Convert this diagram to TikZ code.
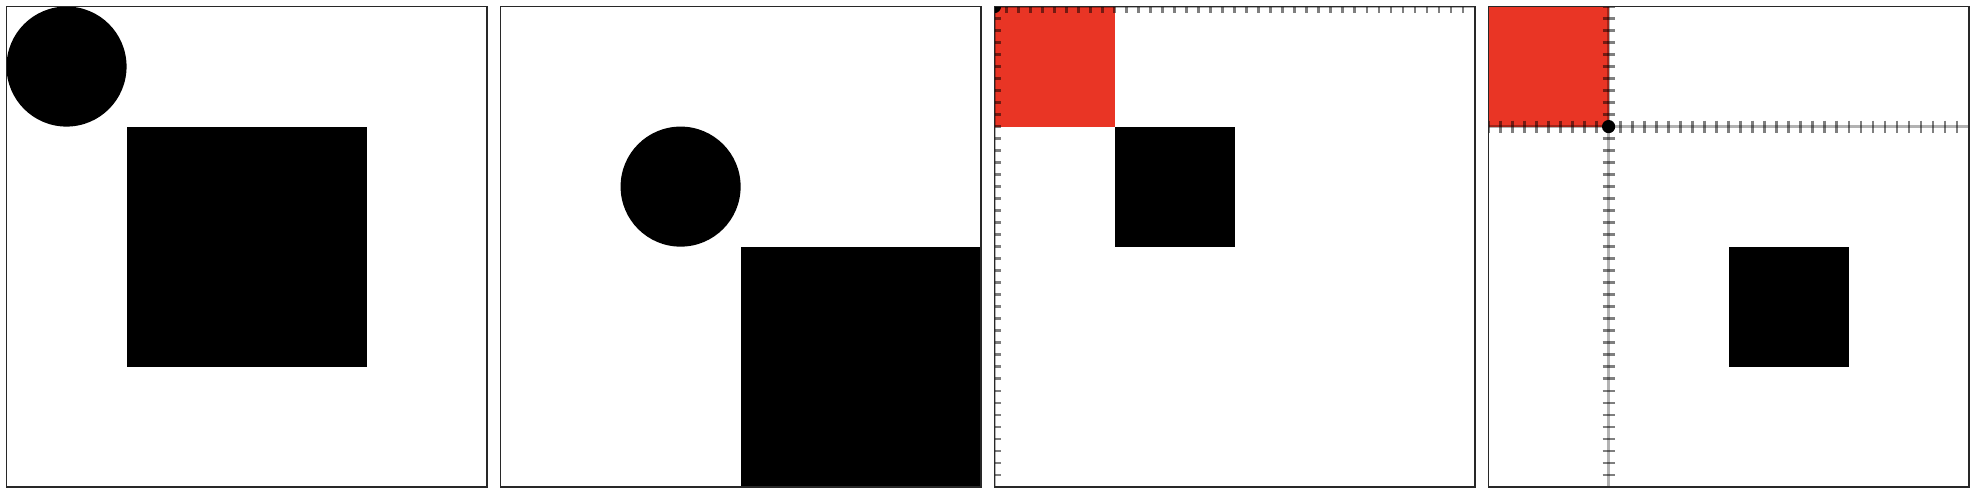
\documentclass[tikz,border=0pt]{standalone}
\definecolor{redfill}{RGB}{233,53,37}
\definecolor{frame}{RGB}{40,40,40}
\tikzset{
  panelframe/.style={draw=frame,line width=0.45pt},
  axisline/.style={draw=black,draw opacity=0.3,line width=1pt},
  axistick/.style={draw=black,draw opacity=0.5,line width=0.7pt},
  dotmark/.style={fill=black},
}
\newcommand{\myaxes}[2]{%
  \draw[axisline] (0,#2) -- (4,#2);
  \draw[axisline] (#1,0) -- (#1,4);
  \foreach \k in {0,...,40}{
    \draw[axistick] (\k/10,#2-0.05) -- (\k/10,#2+0.05);
    \draw[axistick] (#1-0.05,\k/10) -- (#1+0.05,\k/10);
  }
  \fill[dotmark] (#1,#2) circle (0.055);
}
\begin{document}
\begin{tikzpicture}[x=0.01cm,y=-0.01cm]
\useasboundingbox (0,0) rectangle (1976,493);
% panel 1
\begin{scope}[shift={(6.5,6.5)},x=1.2cm,y=-1.2cm]
  \fill (0.5,0.5) circle (0.5);
  \fill (1,1) rectangle (3,3);
  \draw[panelframe] (0,0) rectangle (4,4);
\end{scope}
% panel 2
\begin{scope}[shift={(500.5,6.5)},x=1.2cm,y=-1.2cm]
  \fill (1.5,1.5) circle (0.5);
  \fill (2,2) rectangle (4,4);
  \draw[panelframe] (0,0) rectangle (4,4);
\end{scope}
% panel 3
\begin{scope}[shift={(994.5,6.5)},x=1.2cm,y=-1.2cm]
  \begin{scope}
    \clip (0,0) rectangle (4,4);
    \fill[redfill] (0,0) rectangle (1,1);
    \fill (1,1) rectangle (2,2);
    \myaxes{0}{0}
  \end{scope}
  \draw[panelframe] (0,0) rectangle (4,4);
\end{scope}
% panel 4
\begin{scope}[shift={(1488.5,6.5)},x=1.2cm,y=-1.2cm]
  \begin{scope}
    \clip (0,0) rectangle (4,4);
    \fill[redfill] (0,0) rectangle (1,1);
    \fill (2,2) rectangle (3,3);
    \myaxes{1}{1}
  \end{scope}
  \draw[panelframe] (0,0) rectangle (4,4);
\end{scope}
\end{tikzpicture}
\end{document}
